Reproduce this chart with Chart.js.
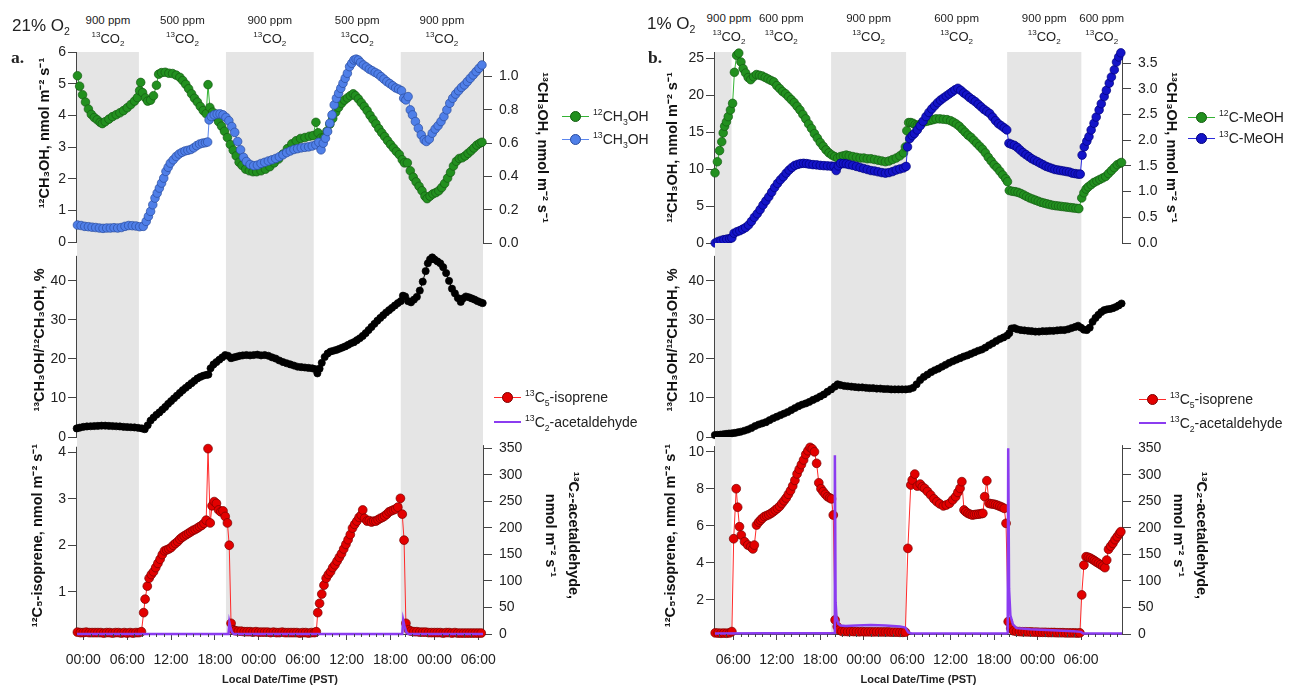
<!DOCTYPE html>
<html>
<head>
<meta charset="utf-8">
<title>13C labelling of methanol, isoprene and acetaldehyde</title>
<script src="https://cdn.jsdelivr.net/npm/chart.js@4.4.1/dist/chart.umd.min.js"></script>
<style>
  body { margin: 0; width: 1292px; height: 687px; position: relative; overflow: hidden; background: #fff;
         font-family: 'Liberation Sans', Arial, sans-serif; color: #222; }
  canvas { position: absolute; }
  .lab { position: absolute; white-space: nowrap; transform: translate(-50%, -50%); line-height: 1; }
  .head { position: absolute; white-space: nowrap; line-height: 1; transform: translateY(-50%); }
  sup, sub { font-size: 62%; line-height: 0; }
  .key { position: absolute; display: flex; align-items: center; white-space: nowrap; font-size: 14px;
         line-height: 1; transform: translateY(-50%); }
  .sym { position: relative; width: 27px; height: 12px; margin-right: 4px; flex: none; }
  .sym i { position: absolute; left: 0; right: 0; top: 6px; }
  .sym b { position: absolute; left: 8px; top: 1px; width: 9px; height: 9px; border-radius: 50%; border: 1px solid; }
</style>
</head>
<body>
<canvas id="aTop"></canvas>
<canvas id="aMid"></canvas>
<canvas id="aBot"></canvas>
<canvas id="bTop"></canvas>
<canvas id="bMid"></canvas>
<canvas id="bBot"></canvas>
<script>
// ---- data, hours from midnight of the first day (PST) ----
const aEdges = [-0.86, 7.6, 19.5, 31.5, 43.4, 54.64];
const aPpm = ['900', '500', '900', '500', '900'];
const bEdges = [3.47, 5.75, 19.5, 29.85, 43.8, 54.05, 59.66];
const bPpm = ['900', '600', '900', '600', '900', '600'];

const aMeOH12 = [[-0.8,5.25],[-0.5,4.92],[-0.1,4.65],[0.3,4.42],[0.7,4.2],[1.1,4.03],[1.5,3.93],[1.9,3.86],[2.3,3.78],[2.6,3.74],
  [3,3.8],[3.5,3.88],[4,3.96],[4.5,4.02],[5,4.08],[5.5,4.15],[6,4.24],[6.5,4.34],[7,4.45],[7.4,4.56],[7.7,4.78],[7.85,5.04],
  [8.1,4.72],[8.5,4.55],[8.8,4.45],[9.2,4.48],[9.6,4.62],[10,4.95],[10.3,5.3],[10.7,5.35],[11.2,5.36],[11.7,5.33],[12.2,5.32],
  [12.7,5.27],[13.2,5.2],[13.6,5.1],[14,4.98],[14.4,4.84],[14.8,4.68],[15.2,4.54],[15.6,4.42],[16,4.28],[16.4,4.15],[16.8,4.05],
  [17.05,4.97],[17.3,4.25],[17.7,4.1],[18.1,3.95],[18.5,3.8],[18.9,3.66],[19.3,3.5],[19.7,3.3],[20.1,3.08],[20.5,2.9],[20.9,2.72],
  [21.3,2.52],[21.7,2.42],[22.2,2.3],[22.7,2.25],[23.2,2.22],[23.7,2.22],[24.3,2.25],[24.9,2.3],[25.5,2.38],[26.1,2.5],[26.7,2.62],
  [27.3,2.78],[27.9,2.95],[28.5,3.1],[29.1,3.2],[29.7,3.27],[30.3,3.3],[30.9,3.34],[31.4,3.36],[31.8,3.78],[32.1,3.45],[32.5,3.28],
  [32.9,3.3],[33.3,3.5],[33.7,3.72],[34.1,3.9],[34.5,4.1],[34.9,4.25],[35.3,4.38],[35.7,4.48],[36.1,4.55],[36.5,4.62],[36.9,4.68],
  [37.2,4.62],[37.6,4.52],[38,4.4],[38.4,4.28],[38.8,4.15],[39.2,4],[39.6,3.87],[40,3.73],[40.4,3.58],[40.8,3.45],[41.2,3.33],
  [41.6,3.2],[42,3.08],[42.4,2.97],[42.8,2.86],[43.2,2.76],[43.6,2.6],[43.9,2.5],[44.3,2.5],[44.7,2.25],[45.1,2.05],[45.5,1.9],
  [45.9,1.76],[46.3,1.62],[46.7,1.45],[47,1.37],[47.4,1.45],[47.8,1.52],[48.2,1.56],[48.6,1.62],[49,1.72],[49.4,1.85],[49.8,2.02],
  [50.2,2.2],[50.6,2.4],[51,2.55],[51.4,2.64],[51.8,2.66],[52.2,2.72],[52.6,2.8],[53,2.88],[53.4,2.97],[53.8,3.06],[54.2,3.12],[54.5,3.15]];

const aMeOH13 = [[-0.8,0.108],[-0.3,0.105],[0.2,0.1],[0.7,0.098],[1.2,0.095],[1.7,0.093],[2.2,0.09],[2.7,0.088],[3.2,0.09],[3.7,0.09],
  [4.2,0.092],[4.7,0.09],[5.2,0.093],[5.7,0.1],[6.2,0.105],[6.7,0.104],[7.2,0.102],[7.7,0.098],[8.2,0.1],[8.6,0.13],[8.9,0.16],
  [9.2,0.19],[9.5,0.23],[9.8,0.27],[10.1,0.3],[10.4,0.33],[10.7,0.36],[11,0.39],[11.3,0.43],[11.6,0.455],[11.9,0.48],[12.3,0.5],
  [12.7,0.52],[13.1,0.535],[13.5,0.545],[13.9,0.553],[14.3,0.557],[14.7,0.562],[15.1,0.572],[15.5,0.585],[15.9,0.595],[16.3,0.6],
  [16.7,0.603],[17,0.607],[17.2,0.74],[17.5,0.76],[17.9,0.77],[18.3,0.775],[18.7,0.776],[19.1,0.77],[19.5,0.755],[19.9,0.735],
  [20.3,0.7],[20.7,0.665],[21.1,0.61],[21.5,0.56],[21.9,0.515],[22.3,0.49],[22.8,0.472],[23.3,0.465],[23.8,0.468],[24.3,0.478],
  [24.8,0.485],[25.3,0.493],[25.8,0.5],[26.3,0.508],[26.8,0.518],[27.3,0.53],[27.8,0.543],[28.3,0.553],[28.8,0.562],[29.3,0.567],
  [29.8,0.572],[30.3,0.575],[30.8,0.578],[31.3,0.583],[31.8,0.59],[32.2,0.605],[32.5,0.56],[32.8,0.6],[33.1,0.63],[33.4,0.67],
  [33.7,0.72],[34,0.77],[34.3,0.83],[34.6,0.87],[34.9,0.9],[35.2,0.93],[35.5,0.96],[35.8,0.99],[36.1,1.02],[36.4,1.06],[36.7,1.08],
  [37,1.1],[37.3,1.105],[37.6,1.1],[37.9,1.085],[38.3,1.07],[38.7,1.058],[39.1,1.045],[39.5,1.035],[39.9,1.025],[40.3,1.015],
  [40.7,1],[41.1,0.985],[41.5,0.97],[41.9,0.958],[42.3,0.945],[42.7,0.932],[43.1,0.925],[43.5,0.915],[43.8,0.87],[44.1,0.86],
  [44.4,0.88],[44.7,0.8],[45,0.77],[45.4,0.73],[45.8,0.69],[46.2,0.65],[46.6,0.62],[46.9,0.61],[47.3,0.625],[47.7,0.66],[48.1,0.685],
  [48.5,0.705],[48.9,0.73],[49.3,0.76],[49.7,0.8],[50.1,0.84],[50.5,0.87],[50.9,0.895],[51.3,0.915],[51.7,0.935],[52.1,0.95],
  [52.5,0.97],[52.9,0.99],[53.3,1.01],[53.7,1.03],[54.1,1.05],[54.5,1.07]];

const aRatio = [[-0.9,2.2],[-0.5,2.4],[0,2.6],[0.5,2.7],[1,2.75],[1.5,2.8],[2,2.85],[2.5,2.9],[3,2.9],[3.5,2.85],[4,2.8],[4.5,2.75],
  [5,2.7],[5.5,2.6],[6,2.55],[6.5,2.5],[7,2.45],[7.5,2.35],[8,2.2],[8.4,2],[8.8,3],[9.2,4.2],[9.6,5],[10,5.7],[10.4,6.3],[10.8,7],
  [11.2,7.7],[11.6,8.5],[12,9.2],[12.4,9.9],[12.8,10.6],[13.2,11.3],[13.6,12],[14,12.6],[14.4,13.2],[14.8,13.8],[15.2,14.4],
  [15.6,15],[16,15.4],[16.4,15.7],[16.8,15.9],[17.1,16],[17.4,17.6],[17.8,18.6],[18.2,19.2],[18.6,19.8],[19,20.4],[19.4,21],
  [19.8,20.8],[20.2,20.2],[20.6,20.4],[21,20.6],[21.4,20.8],[21.8,20.9],[22.3,21],[22.8,20.9],[23.3,21],[23.8,21.1],[24.3,20.9],
  [24.8,21],[25.3,20.8],[25.8,20.4],[26.3,20.1],[26.8,19.6],[27.3,19.2],[27.8,18.9],[28.3,18.6],[28.8,18.3],[29.3,18],[29.8,17.9],
  [30.3,17.8],[30.8,17.7],[31.3,17.6],[31.7,17.4],[32,16.3],[32.3,17.5],[32.6,19],[33,20.5],[33.4,21.4],[33.8,21.9],[34.2,22.1],
  [34.6,22.3],[35,22.6],[35.4,22.9],[35.8,23.2],[36.2,23.6],[36.6,24],[37,24.3],[37.4,24.8],[37.8,25.3],[38.2,25.9],[38.6,26.6],
  [39,27.4],[39.4,28.2],[39.8,29],[40.2,29.8],[40.6,30.5],[41,31.2],[41.4,31.9],[41.8,32.5],[42.2,33.1],[42.6,33.7],[43,34.3],
  [43.4,34.8],[43.7,36.2],[44,36],[44.4,34.8],[44.8,34.5],[45.2,35.2],[45.6,35.9],[46,37.5],[46.4,39.8],[46.8,42.5],[47.1,44.5],
  [47.4,45.5],[47.7,46],[48,45.5],[48.4,45],[48.8,44.5],[49.2,43.5],[49.6,42],[50,40],[50.4,38],[50.8,36.8],[51.2,35.6],[51.6,34.6],
  [51.9,35.5],[52.3,36],[52.7,35.8],[53.1,35.5],[53.5,35.2],[53.9,34.8],[54.3,34.5],[54.6,34.3]];

const aIso = [[-0.8,0.13],[-0.4,0.12],[0,0.12],[0.4,0.13],[0.8,0.12],[1.2,0.12],[1.6,0.12],[2,0.12],[2.4,0.12],[2.8,0.11],[3.2,0.12],
  [3.6,0.12],[4,0.11],[4.4,0.12],[4.8,0.12],[5.2,0.11],[5.6,0.12],[6,0.11],[6.4,0.12],[6.8,0.11],[7.2,0.12],[7.6,0.12],[7.95,0.14],
  [8.25,0.55],[8.45,0.84],[8.75,1.12],[9,1.29],[9.3,1.37],[9.6,1.43],[9.9,1.52],[10.2,1.61],[10.5,1.7],[10.8,1.8],[11.1,1.88],
  [11.4,1.9],[11.7,1.92],[12,1.95],[12.3,2],[12.6,2.04],[12.9,2.08],[13.2,2.13],[13.5,2.17],[13.8,2.2],[14.1,2.23],[14.4,2.26],
  [14.7,2.29],[15,2.32],[15.3,2.34],[15.6,2.37],[15.9,2.4],[16.2,2.43],[16.5,2.47],[16.8,2.54],[17.05,4.08],[17.35,2.48],[17.6,2.85],
  [17.9,2.94],[18.2,2.9],[18.5,2.76],[18.8,2.72],[19.1,2.74],[19.4,2.62],[19.7,2.48],[19.95,2],[20.2,0.32],[20.5,0.18],[20.8,0.16],
  [21.2,0.15],[21.6,0.15],[22,0.14],[22.4,0.14],[22.8,0.14],[23.2,0.13],[23.6,0.14],[24,0.13],[24.4,0.13],[24.8,0.13],[25.2,0.13],
  [25.6,0.12],[26,0.13],[26.4,0.12],[26.8,0.12],[27.2,0.13],[27.6,0.12],[28,0.12],[28.4,0.12],[28.8,0.12],[29.2,0.12],[29.6,0.11],
  [30,0.12],[30.4,0.12],[30.8,0.11],[31.2,0.12],[31.6,0.12],[31.85,0.14],[32.05,0.55],[32.3,0.75],[32.6,0.95],[32.9,1.14],[33.2,1.29],
  [33.5,1.37],[33.8,1.43],[34.1,1.52],[34.4,1.58],[34.7,1.66],[35,1.74],[35.3,1.82],[35.6,1.92],[35.9,2.02],[36.2,2.12],[36.5,2.23],
  [36.8,2.37],[37.1,2.45],[37.4,2.52],[37.7,2.6],[38,2.65],[38.2,2.76],[38.45,2.58],[38.8,2.52],[39.1,2.53],[39.4,2.5],[39.7,2.52],
  [40,2.52],[40.3,2.55],[40.6,2.58],[40.9,2.6],[41.2,2.63],[41.5,2.67],[41.8,2.72],[42.1,2.74],[42.4,2.76],[42.7,2.78],[43,2.82],
  [43.35,3.01],[43.6,2.67],[43.85,2.11],[44.1,0.32],[44.45,0.18],[44.8,0.15],[45.2,0.14],[45.6,0.14],[46,0.13],[46.4,0.13],
  [46.8,0.13],[47.2,0.12],[47.6,0.12],[48,0.12],[48.4,0.12],[48.8,0.12],[49.2,0.11],[49.6,0.12],[50,0.12],[50.4,0.11],[50.8,0.12],
  [51.2,0.11],[51.6,0.11],[52,0.11],[52.4,0.11],[52.8,0.11],[53.2,0.11],[53.6,0.11],[54,0.11],[54.4,0.11]];

const aAcet = [[-0.86,0],[19.85,0],[19.97,22],[20.1,14],[20.3,4],[20.55,0],[43.6,0],[43.73,26],[43.9,15],[44.15,4],[44.4,0],[54.64,0]];

const bMeOH12 = [[3.47,9.5],[3.8,11],[4.1,12.5],[4.4,13.7],[4.6,14.9],[4.8,15.8],[5.05,16.4],[5.3,17.1],[5.6,18],[5.9,18.9],
  [6.15,23.1],[6.45,25.4],[6.75,25.7],[7.05,24.5],[7.35,23.6],[7.7,23],[8.05,22.4],[8.4,22.1],[8.8,22.5],[9.2,22.8],[9.6,22.7],
  [10,22.6],[10.4,22.4],[10.8,22.2],[11.2,22],[11.6,21.8],[12,21.3],[12.4,20.9],[12.8,20.5],[13.2,20.2],[13.6,19.8],[14,19.4],
  [14.4,19],[14.8,18.5],[15.2,18],[15.6,17.4],[16,16.8],[16.4,16.1],[16.8,15.5],[17.2,14.8],[17.6,14.2],[18,13.6],[18.4,13.1],
  [18.8,12.6],[19.2,12.2],[19.6,11.9],[20,11.7],[20.4,11.5],[20.8,11.7],[21.2,11.8],[21.6,11.9],[22,11.8],[22.5,11.7],[23,11.6],
  [23.5,11.5],[24,11.5],[24.5,11.4],[25,11.4],[25.5,11.3],[26,11.2],[26.5,11.1],[27,11],[27.5,11.1],[28,11.3],[28.5,11.5],[29,11.8],
  [29.5,12.2],[29.75,13],[29.95,15.2],[30.2,16.3],[30.5,16.3],[30.8,16.2],[31.1,16],[31.4,15.9],[31.7,16],[32,16.2],[32.4,16.4],
  [32.8,16.5],[33.2,16.6],[33.6,16.7],[34,16.8],[34.5,16.8],[35,16.75],[35.5,16.7],[36,16.55],[36.4,16.35],[36.8,16.1],[37.2,15.8],
  [37.6,15.4],[38,15],[38.4,14.6],[38.8,14.3],[39.2,13.9],[39.6,13.5],[40,13.1],[40.4,12.7],[40.8,12.2],[41.2,11.6],[41.6,11.1],
  [42,10.6],[42.4,10.2],[42.8,9.7],[43.2,9.2],[43.6,8.7],[43.85,8.3],[44.1,7.1],[44.5,7],[44.9,6.95],[45.3,6.85],[45.7,6.7],[46.1,6.5],
  [46.5,6.3],[46.9,6.1],[47.3,5.95],[47.7,5.8],[48.1,5.65],[48.5,5.5],[48.9,5.4],[49.3,5.3],[49.7,5.2],[50.1,5.1],[50.5,5.05],
  [50.9,5],[51.3,4.95],[51.7,4.9],[52.1,4.85],[52.5,4.8],[52.9,4.75],[53.3,4.7],[53.7,4.65],[54.1,6.1],[54.4,6.8],[54.7,7.3],
  [55,7.6],[55.4,7.9],[55.8,8.2],[56.2,8.4],[56.6,8.6],[57,8.8],[57.4,9],[57.8,9.4],[58.2,9.8],[58.6,10.2],[59,10.6],[59.4,10.8],[59.6,10.9]];

const bMeOH13 = [[3.5,0],[3.9,0.03],[4.3,0.05],[4.7,0.065],[5.1,0.075],[5.5,0.085],[5.8,0.1],[6.1,0.19],[6.5,0.22],[6.9,0.24],
  [7.3,0.27],[7.7,0.3],[8.1,0.35],[8.5,0.42],[8.9,0.5],[9.3,0.57],[9.7,0.65],[10.1,0.74],[10.5,0.82],[10.9,0.9],[11.3,0.99],
  [11.7,1.08],[12.1,1.16],[12.5,1.23],[12.9,1.29],[13.3,1.36],[13.7,1.42],[14.1,1.47],[14.5,1.51],[14.9,1.53],[15.3,1.545],
  [15.7,1.55],[16.1,1.545],[16.5,1.535],[17,1.525],[17.5,1.52],[18,1.51],[18.5,1.505],[19,1.5],[19.5,1.495],[19.9,1.49],[20.2,1.41],
  [20.5,1.5],[20.8,1.55],[21.2,1.545],[21.6,1.54],[22,1.525],[22.5,1.51],[23,1.49],[23.5,1.47],[24,1.45],[24.5,1.43],[25,1.41],
  [25.5,1.4],[26,1.385],[26.5,1.37],[27,1.36],[27.5,1.37],[28,1.39],[28.5,1.42],[29,1.44],[29.5,1.46],[29.85,1.49],[30.05,1.87],
  [30.35,2.03],[30.7,2.09],[31,2.13],[31.4,2.2],[31.8,2.28],[32.2,2.37],[32.6,2.46],[33,2.54],[33.4,2.61],[33.8,2.67],[34.2,2.73],
  [34.6,2.78],[35,2.82],[35.4,2.86],[35.8,2.9],[36.2,2.94],[36.6,2.98],[37,3.01],[37.4,2.97],[37.8,2.92],[38.2,2.88],[38.6,2.83],
  [39,2.79],[39.4,2.75],[39.8,2.7],[40.2,2.65],[40.6,2.6],[41,2.56],[41.4,2.52],[41.8,2.45],[42.2,2.38],[42.6,2.32],[43,2.28],
  [43.4,2.24],[43.75,2.2],[44.05,1.94],[44.4,1.92],[44.8,1.9],[45.2,1.86],[45.6,1.81],[46,1.76],[46.4,1.72],[46.8,1.68],[47.2,1.64],
  [47.6,1.61],[48,1.58],[48.4,1.55],[48.8,1.52],[49.2,1.49],[49.6,1.47],[50,1.45],[50.4,1.43],[50.8,1.42],[51.2,1.41],[51.6,1.4],
  [52,1.39],[52.4,1.38],[52.8,1.36],[53.2,1.35],[53.6,1.34],[53.9,1.34],[54.15,1.71],[54.45,1.87],[54.8,1.98],[55.1,2.07],[55.4,2.2],
  [55.8,2.33],[56.1,2.45],[56.5,2.59],[56.8,2.71],[57.2,2.85],[57.5,2.97],[57.9,3.11],[58.2,3.23],[58.6,3.37],[58.9,3.52],[59.2,3.62],[59.5,3.7]];

const bRatio = [[3.45,0.5],[3.8,0.55],[4.2,0.6],[4.6,0.7],[5,0.8],[5.4,0.9],[5.8,0.95],[6.2,1.05],[6.6,1.2],[7,1.35],[7.5,1.6],[8,1.9],
  [8.5,2.3],[9,2.8],[9.5,3.2],[10,3.5],[10.5,3.8],[11,4.3],[11.5,4.8],[12,5.2],[12.5,5.6],[13,6],[13.5,6.4],[14,6.9],[14.5,7.4],
  [15,7.9],[15.5,8.3],[16,8.6],[16.5,9],[17,9.5],[17.5,9.9],[18,10.4],[18.5,10.9],[19,11.6],[19.5,12.2],[20,12.9],[20.4,13.5],
  [20.8,13.3],[21.3,13.1],[21.8,13],[22.3,12.9],[22.8,12.8],[23.3,12.7],[23.8,12.7],[24.3,12.6],[24.8,12.5],[25.3,12.5],[25.8,12.4],
  [26.3,12.4],[26.8,12.3],[27.3,12.3],[27.8,12.2],[28.3,12.2],[28.8,12.2],[29.3,12.2],[29.8,12.2],[30.3,12.3],[30.8,12.6],[31.3,13.5],
  [31.8,14.6],[32.3,15.4],[32.8,16],[33.3,16.6],[33.8,17.1],[34.3,17.5],[34.8,18],[35.3,18.5],[35.8,19],[36.3,19.4],[36.8,19.8],
  [37.3,20.2],[37.8,20.6],[38.3,20.9],[38.8,21.3],[39.3,21.7],[39.8,22.1],[40.3,22.4],[40.8,22.9],[41.3,23.5],[41.8,24],[42.3,24.6],
  [42.8,25.1],[43.3,25.5],[43.8,26],[44.1,26.6],[44.4,27.8],[44.8,27.9],[45.2,27.6],[45.7,27.4],[46.2,27.3],[46.7,27.2],[47.2,27.1],
  [47.7,27],[48.2,27],[48.7,27.1],[49.2,27.1],[49.7,27.2],[50.2,27.2],[50.7,27.3],[51.2,27.4],[51.7,27.4],[52.2,27.6],[52.7,27.9],
  [53.2,28.2],[53.6,28.5],[54,28],[54.4,27.5],[54.8,27.4],[55.2,28],[55.6,29.5],[56,30.5],[56.4,31.3],[56.8,32],[57.2,32.5],
  [57.6,32.7],[58,32.8],[58.4,33],[58.8,33.3],[59.2,33.7],[59.6,34.2]];

const bIso = [[3.5,0.22],[3.9,0.21],[4.3,0.2],[4.7,0.21],[5.1,0.2],[5.5,0.22],[5.8,0.29],[6.05,5.3],[6.4,8],[6.6,7],[6.85,5.95],
  [7.1,5.5],[7.55,5.14],[8,4.96],[8.4,4.87],[8.7,4.75],[8.9,4.96],[9.2,6.04],[9.5,6.2],[9.75,6.3],[10,6.4],[10.3,6.5],[10.6,6.55],
  [10.9,6.6],[11.2,6.67],[11.5,6.75],[11.8,6.85],[12.1,6.94],[12.4,7.05],[12.7,7.2],[13,7.35],[13.3,7.5],[13.6,7.7],[13.9,7.9],
  [14.2,8.15],[14.5,8.45],[14.8,8.8],[15.1,9.05],[15.4,9.3],[15.7,9.55],[16,9.85],[16.3,10.05],[16.6,10.23],[16.9,10.15],[17.2,9.99],
  [17.5,9.37],[17.8,8.32],[18.1,8],[18.4,7.84],[18.7,7.7],[19,7.57],[19.3,7.5],[19.55,7.45],[19.8,6.58],[20.05,0.92],[20.35,0.56],
  [20.6,0.38],[21,0.3],[21.4,0.3],[21.8,0.29],[22.2,0.3],[22.6,0.29],[23,0.29],[23.4,0.28],[23.8,0.29],[24.2,0.28],[24.6,0.28],
  [25,0.28],[25.4,0.27],[25.8,0.28],[26.2,0.27],[26.6,0.27],[27,0.27],[27.4,0.27],[27.8,0.26],[28.2,0.26],[28.6,0.26],[29,0.25],
  [29.4,0.25],[29.75,0.26],[30.1,4.78],[30.5,8.2],[30.7,8.47],[31.05,8.79],[31.4,8.14],[31.8,8.25],[32.1,8.1],[32.4,8.02],[32.8,7.85],
  [33.25,7.66],[33.7,7.45],[34.1,7.3],[34.5,7.18],[35,7.07],[35.4,7.12],[35.85,7.21],[36.3,7.4],[36.7,7.57],[37,7.8],[37.3,8.02],
  [37.55,8.38],[37.85,6.85],[38.1,6.75],[38.4,6.67],[38.7,6.62],[39,6.58],[39.3,6.6],[39.6,6.62],[39.9,6.63],[40.2,6.65],[40.45,6.67],
  [40.7,7.57],[41,8.43],[41.3,7.21],[41.6,7.18],[41.9,7.17],[42.2,7.14],[42.5,7.1],[42.8,7.05],[43.1,7],[43.4,6.94],[43.65,6.13],
  [43.95,0.83],[44.3,0.47],[44.7,0.33],[45.1,0.3],[45.5,0.29],[45.9,0.28],[46.3,0.28],[46.7,0.27],[47.1,0.27],[47.5,0.26],[47.9,0.26],
  [48.3,0.25],[48.7,0.25],[49.1,0.25],[49.5,0.24],[49.9,0.24],[50.3,0.24],[50.7,0.23],[51.1,0.23],[51.5,0.23],[51.9,0.22],[52.3,0.22],
  [52.7,0.22],[53.1,0.22],[53.5,0.21],[53.85,0.22],[54.1,2.27],[54.4,3.88],[54.7,4.33],[55,4.3],[55.3,4.25],[55.6,4.18],[55.85,4.12],
  [56.1,4.05],[56.4,3.98],[56.7,3.9],[57,3.83],[57.3,3.74],[57.55,4.15],[57.8,4.73],[58.1,4.9],[58.4,5.05],[58.7,5.25],[59,5.41],
  [59.3,5.58],[59.5,5.68]];

const bAcet = [[3.47,1],[10,1.2],[19.5,1.5],[19.95,2],[20.02,337],[20.12,60],[20.25,30],[20.5,19],[20.8,16],[21.5,15],[23,16],[25,17],
  [27,16],[29,14],[29.75,12],[30.15,3],[30.6,1],[43.7,1],[43.88,2],[43.95,350],[44.07,85],[44.25,35],[44.6,18],[45.1,11],[47,9],
  [50,7],[53,5],[54,4],[54.3,1],[59.66,1]];

// ---- layout ----
const FONT = "'Liberation Sans', Arial, sans-serif";
const SIDE = { a: [77, 483], b: [715, 1122] };
const XR = { a: [-0.86, 54.64], b: [3.47, 59.66] };
const ROW = { top: [52, 243], mid: [243, 437], bot: [437, 634] };
const LW = 77, RW = 120;
const FLUX = ', nmol m\u207B\u00B2 s\u207B\u00B9';

Chart.defaults.font.family = FONT;

const clock = v => String(((Math.round(v) % 24) + 24) % 24).padStart(2, '0') + ':00';

const shade = {
  id: 'shade',
  beforeDraw(chart, args, o) {
    const { ctx, chartArea: a, scales: { x } } = chart;
    ctx.save();
    ctx.fillStyle = '#e5e5e5';
    o.edges.forEach((e, i) => {
      if (i >= o.ppm.length || o.ppm[i] !== '900') return;
      const x0 = x.getPixelForValue(Math.max(e, x.min));
      const x1 = x.getPixelForValue(Math.min(o.edges[i + 1], x.max));
      ctx.fillRect(x0, a.top, x1 - x0, a.bottom - a.top);
    });
    ctx.restore();
  }
};

const axisLines = {
  id: 'axisLines',
  beforeDatasetsDraw(chart, args, o) {
    const { ctx, chartArea: a } = chart;
    ctx.save();
    ctx.strokeStyle = '#444';
    ctx.lineWidth = 1;
    Object.keys(o.spans).forEach(id => {
      const s = chart.scales[id];
      const [lo, hi] = o.spans[id];
      const px = s.position === 'left' ? a.left - 0.5 : a.right + 0.5;
      ctx.beginPath();
      ctx.moveTo(px, Math.min(a.bottom, s.getPixelForValue(lo)));
      ctx.lineTo(px, Math.max(a.top, s.getPixelForValue(hi)));
      ctx.stroke();
    });
    ctx.restore();
  }
};

const minorTicks = {
  id: 'minorTicks',
  afterDraw(chart, args, o) {
    if (!o.on) return;
    const { ctx, chartArea: a, scales: { x } } = chart;
    ctx.save();
    ctx.strokeStyle = '#444';
    ctx.lineWidth = 1;
    for (let h = Math.ceil(x.min); h <= x.max; h++) {
      if (h % 6 === 0) continue;
      const px = Math.round(x.getPixelForValue(h)) + 0.5;
      ctx.beginPath();
      ctx.moveTo(px, a.bottom);
      ctx.lineTo(px, a.bottom + 3);
      ctx.stroke();
    }
    ctx.restore();
  }
};

function yScale(position, s) {
  return {
    type: 'linear', position, min: s.min, max: s.max,
    afterFit: sc => { sc.width = position === 'left' ? LW : RW; sc.paddingTop = 0; sc.paddingBottom = 0; },
    border: { display: false },
    grid: { drawOnChartArea: false, drawTicks: true, tickLength: 9, color: '#444' },
    ticks: {
      stepSize: s.step, includeBounds: false, padding: position === 'left' ? 2 : 7, color: '#222',
      font: { family: FONT, size: 14 },
      callback: v => s.digits ? v.toFixed(s.digits) : String(Math.round(v))
    },
    title: {
      display: true, text: s.title, color: '#111',
      font: { family: FONT, size: 14.5, weight: 'bold', lineHeight: s.lh || 1.2 },
      padding: { top: s.pad, bottom: 0 }
    }
  };
}

function xScale(side, show) {
  return {
    type: 'linear', min: XR[side][0], max: XR[side][1], display: show,
    afterFit: sc => { if (show) sc.height = 53; sc.paddingLeft = 0; sc.paddingRight = 0; },
    border: { display: true, color: '#444' },
    grid: { drawOnChartArea: false, drawTicks: true, tickLength: 6, color: '#444' },
    ticks: { stepSize: 6, includeBounds: false, autoSkip: false, maxRotation: 0, padding: 12, color: '#222',
             font: { family: FONT, size: 14 }, callback: v => clock(v) },
    title: { display: true, text: 'Local Date/Time (PST)', color: '#222',
             font: { family: FONT, size: 11, weight: 'bold' }, padding: { top: 0, bottom: 0 } }
  };
}

function dots(points, fill, edge, line, axis, r) {
  return {
    data: points.map(([x, y]) => ({ x, y })), yAxisID: axis, showLine: true,
    borderColor: line, borderWidth: 1, pointRadius: r, pointBackgroundColor: fill,
    pointBorderColor: edge, pointBorderWidth: 0.7, clip: false
  };
}

function trace(points, color) {
  return { data: points.map(([x, y]) => ({ x, y })), yAxisID: 'y2', showLine: true,
           borderColor: color, borderWidth: 2.5, pointRadius: 0, clip: false };
}

function panel(id, side, row, spec) {
  const [pl, pr] = SIDE[side];
  const [pt, pb] = ROW[row];
  const bottom = row === 'bot';
  const cv = document.getElementById(id);
  const left = pl - LW, top = pt - 12;
  const width = pr + RW - left, height = (pb - pt) + 12 + (bottom ? 53 : 12);
  cv.width = width; cv.height = height;
  Object.assign(cv.style, { left: left + 'px', top: top + 'px', width: width + 'px', height: height + 'px' });
  const scales = { x: xScale(side, bottom), y: yScale('left', spec.y) };
  if (spec.y2) scales.y2 = yScale('right', spec.y2);
  const chart = new Chart(cv, {
    type: 'scatter',
    data: { datasets: spec.sets },
    options: {
      responsive: false, animation: false, devicePixelRatio: 1, events: [],
      layout: { padding: { left: 0, top: 12, right: spec.y2 ? 0 : RW, bottom: bottom ? 0 : 12 } },
      scales,
      plugins: {
        legend: { display: false }, tooltip: { enabled: false },
        shade: side === 'a' ? { edges: aEdges, ppm: aPpm } : { edges: bEdges, ppm: bPpm },
        axisLines: { spans: spec.spans },
        minorTicks: { on: bottom }
      }
    },
    plugins: [shade, axisLines, minorTicks]
  });
  return { chart, left };
}

// ---- panel a: 21% O2 ----
const aTop = panel('aTop', 'a', 'top', {
  sets: [dots(aMeOH13, '#4f7fe8', '#2a4c9e', '#5b86ee', 'y2', 4.3), dots(aMeOH12, '#22901f', '#145c12', '#35b335', 'y', 4.3)],
  y: { min: -0.03, max: 6, step: 1, pad: 36, title: '\u2003\u2003\u00B9\u00B2CH\u2083OH' + FLUX },
  y2: { min: 0, max: 1.148, step: 0.2, digits: 1, pad: 52, title: '\u00B9\u00B3CH\u2083OH' + FLUX },
  spans: { y: [-0.03, 6], y2: [0, 1.148] }
});
panel('aMid', 'a', 'mid', {
  sets: [dots(aRatio, '#000', '#000', '#000', 'y', 3.6)],
  y: { min: 0, max: 49.7, step: 10, pad: 31, title: '\u00B9\u00B3CH\u2083OH/\u00B9\u00B2CH\u2083OH, %' },
  spans: { y: [0, 46.4] }
});
panel('aBot', 'a', 'bot', {
  sets: [trace(aAcet, '#8b3cf0'), dots(aIso, '#e30000', '#7a0000', '#ff2a2a', 'y', 4.4)],
  y: { min: 0.09, max: 4.33, step: 1, pad: 29, title: '\u00B9\u00B2C\u2085-isoprene' + FLUX },
  y2: { min: 0, max: 371.3, step: 50, pad: 19, lh: 1.55, title: ['\u00B9\u00B3C\u2082-acetaldehyde,', 'nmol m\u207B\u00B2 s\u207B\u00B9'] },
  spans: { y: [0.09, 4.12], y2: [0, 356] }
});

// ---- panel b: 1% O2 ----
const bTop = panel('bTop', 'b', 'top', {
  sets: [dots(bMeOH13, '#1414c8', '#00007a', '#2b2bdd', 'y2', 4.3), dots(bMeOH12, '#22901f', '#145c12', '#35b335', 'y', 4.3)],
  y: { min: 0, max: 25.85, step: 5, pad: 26, title: '\u00B9\u00B2CH\u2083OH' + FLUX },
  y2: { min: 0, max: 3.716, step: 0.5, digits: 1, pad: 62, title: '\u00B9\u00B3CH\u2083OH' + FLUX },
  spans: { y: [0, 25.85], y2: [0, 3.716] }
});
panel('bMid', 'b', 'mid', {
  sets: [dots(bRatio, '#000', '#000', '#000', 'y', 3.6)],
  y: { min: 0, max: 49.7, step: 10, pad: 26, title: '\u00B9\u00B3CH\u2083OH/\u00B9\u00B2CH\u2083OH, %' },
  spans: { y: [0, 46.4] }
});
panel('bBot', 'b', 'bot', {
  sets: [trace(bAcet, '#8b3cf0'), dots(bIso, '#e30000', '#7a0000', '#ff2a2a', 'y', 4.4)],
  y: { min: 0.16, max: 10.79, step: 2, pad: 24, title: '\u00B9\u00B2C\u2085-isoprene' + FLUX },
  y2: { min: 0, max: 371.3, step: 50, pad: 30, lh: 1.55, title: ['\u00B9\u00B3C\u2082-acetaldehyde,', 'nmol m\u207B\u00B2 s\u207B\u00B9'] },
  spans: { y: [0.16, 10.3], y2: [0, 356] }
});

// ---- text outside the plots ----
function put(cls, x, y, html, css) {
  const d = document.createElement('div');
  d.className = cls;
  d.innerHTML = html;
  d.style.left = x + 'px';
  d.style.top = y + 'px';
  if (css) d.style.cssText += css;
  document.body.appendChild(d);
  return d;
}

function ppmLabels(p, edges, ppm, y1, y2, minX) {
  const x = p.chart.scales.x;
  ppm.forEach((v, i) => {
    const c = Math.max(p.left + x.getPixelForValue((edges[i] + edges[i + 1]) / 2), minX);
    put('lab', c, y1, v + ' ppm', 'font-size:11.5px');
    put('lab', c, y2, '<sup>13</sup>CO<sub>2</sub>', 'font-size:13px');
  });
}
ppmLabels(aTop, aEdges, aPpm, 21, 38, 0);
ppmLabels(bTop, bEdges, bPpm, 18.5, 35.5, 729);

put('head', 12, 25, '21% O<sub>2</sub>', 'font-size:17px');
put('head', 647, 23, '1% O<sub>2</sub>', 'font-size:17px');
put('head', 11, 57, 'a.', "font:bold 17.5px 'Liberation Serif', serif");
put('head', 648, 57, 'b.', "font:bold 17.5px 'Liberation Serif', serif");

function key(x, y, line, fill, edge, html, thick) {
  const mark = fill ? `<b style="background:${fill};border-color:${edge}"></b>` : '';
  const h = thick ? 2.5 : 1;
  put('key', x, y, `<span class="sym"><i style="background:${line};height:${h}px;top:${6 - h / 2}px"></i>${mark}</span><span>${html}</span>`);
}
key(562, 116, '#35b335', '#22901f', '#145c12', '<sup>12</sup>CH<sub>3</sub>OH');
key(562, 139, '#5b86ee', '#4f7fe8', '#2a4c9e', '<sup>13</sup>CH<sub>3</sub>OH');
key(1188, 117, '#35b335', '#22901f', '#145c12', '<sup>12</sup>C-MeOH');
key(1188, 138, '#2b2bdd', '#1414c8', '#00007a', '<sup>13</sup>C-MeOH');
key(494, 397, '#ff2a2a', '#e30000', '#7a0000', '<sup>13</sup>C<sub>5</sub>-isoprene');
key(494, 422, '#8b3cf0', null, null, '<sup>13</sup>C<sub>2</sub>-acetaldehyde', true);
key(1139, 399, '#ff2a2a', '#e30000', '#7a0000', '<sup>13</sup>C<sub>5</sub>-isoprene');
key(1139, 423, '#8b3cf0', null, null, '<sup>13</sup>C<sub>2</sub>-acetaldehyde', true);
</script>
</body>
</html>
